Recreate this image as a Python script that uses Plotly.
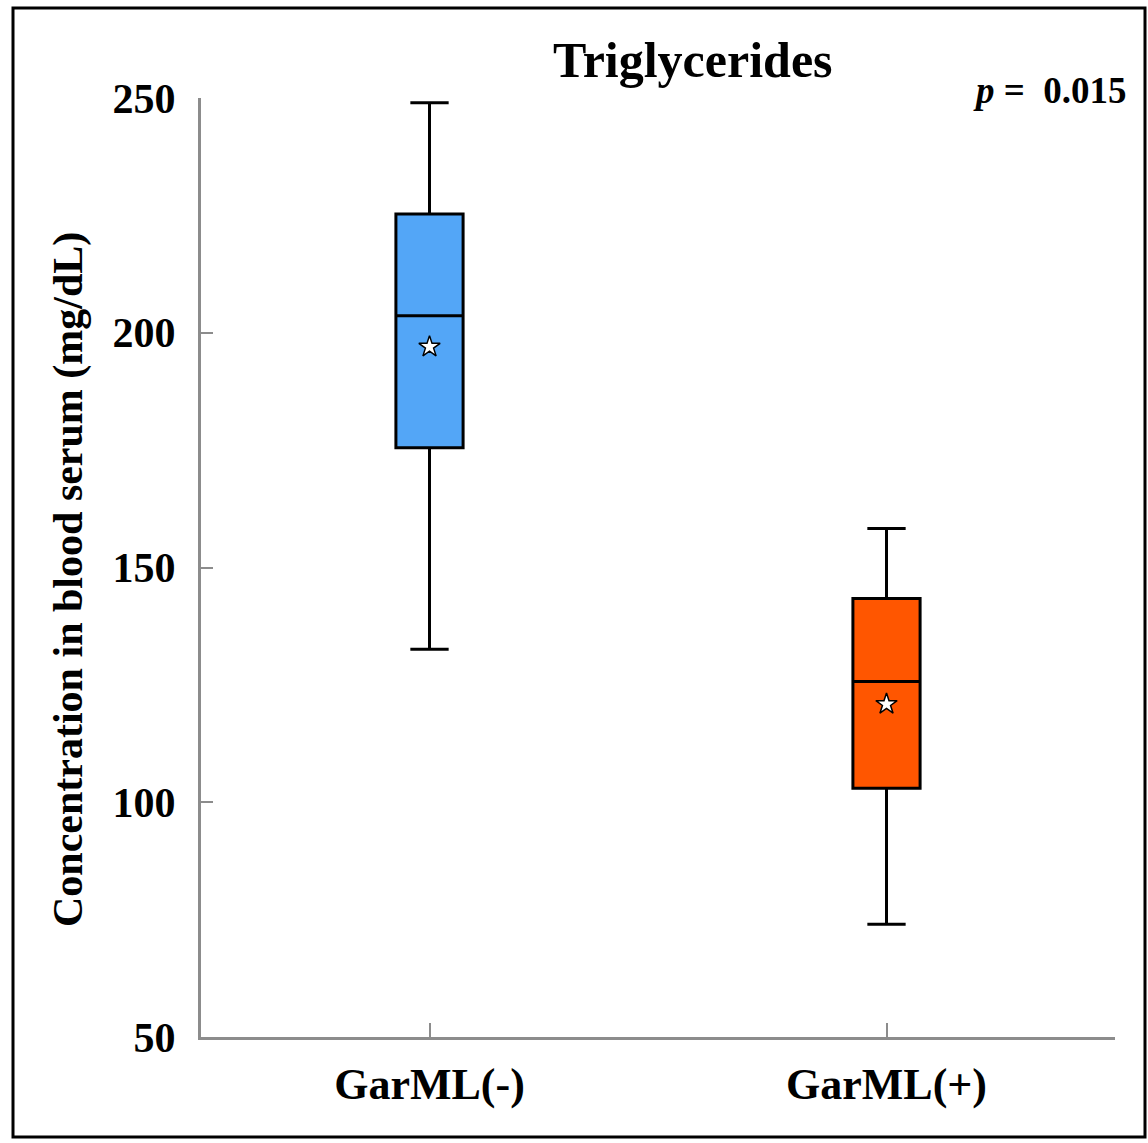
import plotly.graph_objects as go

groups = ["GarML(-)", "GarML(+)"]
q1 = [175.5, 103.0]
median = [203.6, 125.7]
q3 = [225.3, 143.4]
lower = [132.6, 74.0]
upper = [249.0, 158.3]
means = [197.0, 120.9]
colors = ["#53A6F7", "#FF5600"]
y_ticks = [50, 100, 150, 200, 250]

FONT = "Liberation Serif, Times New Roman, serif"
W, H = 1148, 1143
L, R, T, B = 201, 33, 98, 106
pw, ph = W - L - R, H - T - B

def px(x):
    return (x - L) / pw

def py(y):
    return (H - B - y) / ph

fig = go.Figure()
for i, g in enumerate(groups):
    fig.add_trace(go.Box(
        x=[i], q1=[q1[i]], median=[median[i]], q3=[q3[i]],
        lowerfence=[lower[i]], upperfence=[upper[i]],
        boxpoints=False, width=0.147, whiskerwidth=0.57,
        fillcolor=colors[i], line=dict(color="black", width=3),
        showlegend=False, hoverinfo="skip",
    ))
fig.add_trace(go.Scatter(
    x=[0, 1], y=means, mode="markers",
    marker=dict(symbol="star", size=16, color="white", line=dict(color="black", width=1.5)),
    showlegend=False,
))

fig.update_xaxes(
    range=[-0.5, 1.5], tickmode="array", tickvals=[0, 1], ticktext=groups,
    showline=True, linecolor="#8c8c8c", linewidth=3, mirror=False,
    ticks="inside", tickcolor="#8c8c8c", ticklen=14, tickwidth=1.5,
    tickfont=dict(family=FONT, size=44, color="black", weight="bold"),
    showgrid=False, zeroline=False, ticklabelstandoff=6,
)
fig.update_yaxes(
    range=[50, 250], tickmode="array", tickvals=y_ticks,
    showline=True, linecolor="#8c8c8c", linewidth=3,
    ticks="inside", tickcolor="#8c8c8c", ticklen=12, tickwidth=1.5,
    tickfont=dict(family=FONT, size=42, color="black", weight="bold"),
    showgrid=False, zeroline=False, ticklabelstandoff=14,
)

fig.add_annotation(text="Triglycerides", xref="paper", yref="paper",
                   x=px(693), y=py(60), xanchor="center", yanchor="middle", showarrow=False,
                   font=dict(family=FONT, size=50, color="black", weight="bold"))
fig.add_annotation(text="<i>p</i> =  0.015", xref="paper", yref="paper",
                   x=px(1129), y=py(90), xanchor="right", yanchor="middle", showarrow=False,
                   font=dict(family=FONT, size=37, color="black", weight="bold"))
fig.add_annotation(text="Concentration in blood serum (mg/dL)", xref="paper", yref="paper",
                   x=px(68), y=py(580), xanchor="center", yanchor="middle", showarrow=False,
                   textangle=-90,
                   font=dict(family=FONT, size=42, color="black", weight="bold"))

fig.add_shape(type="rect", xref="paper", yref="paper",
              x0=px(13), x1=px(1145), y0=py(1137), y1=py(8),
              line=dict(color="black", width=3), layer="above")

fig.update_layout(
    width=W, height=H, margin=dict(l=L, r=R, t=T, b=B),
    plot_bgcolor="white", paper_bgcolor="white",
)
fig.write_html("out.html", config={"displayModeBar": False},
               post_script="document.body.style.margin='0';document.body.style.overflow='hidden';")
